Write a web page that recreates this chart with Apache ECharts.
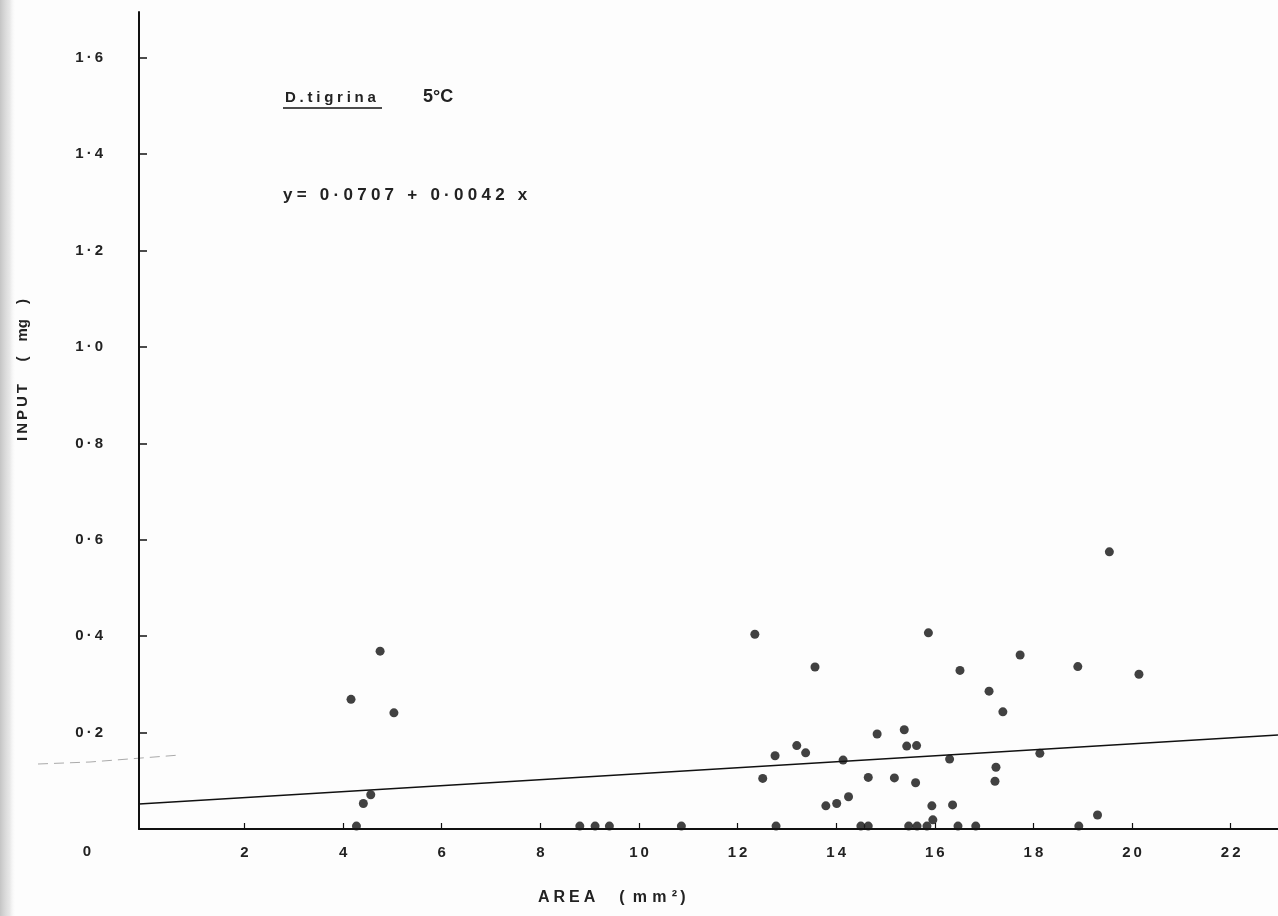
<!DOCTYPE html>
<html><head><meta charset="utf-8">
<script src="https://cdn.jsdelivr.net/npm/echarts@6/dist/echarts.min.js"></script>
<style>html,body{margin:0;padding:0;background:#fdfdfd}#c{width:1278px;height:916px}</style>
</head><body><div id="c"></div>
<script>
// ---- data ----
const areaX = [
  4.16, 4.75, 5.03, 4.56, 4.41, 4.27,
  8.80, 9.11, 9.40, 10.86, 12.78,
  12.35, 13.57, 15.87, 16.51, 17.10, 17.38, 14.83, 15.38, 15.43, 15.63,
  13.20, 13.38, 12.76, 14.14, 16.30, 12.51, 14.65, 15.18, 15.61, 17.24,
  17.22, 14.25, 14.01, 13.79, 15.94, 16.36,
  14.50, 14.65, 15.47, 15.64, 15.84, 15.96, 16.47, 16.83,
  19.54, 17.73, 18.90, 20.14, 18.13, 19.30, 18.92
];
const inputY = [
  0.269, 0.369, 0.241, 0.071, 0.053, 0.006,
  0.006, 0.006, 0.006, 0.006, 0.006,
  0.404, 0.336, 0.407, 0.329, 0.286, 0.243, 0.197, 0.206, 0.172, 0.173,
  0.173, 0.158, 0.152, 0.143, 0.145, 0.105, 0.107, 0.106, 0.096, 0.128,
  0.099, 0.067, 0.053, 0.048, 0.048, 0.050,
  0.006, 0.006, 0.006, 0.006, 0.006, 0.019, 0.006, 0.006,
  0.575, 0.361, 0.337, 0.321, 0.157, 0.029, 0.006
];
const fitX = [-0.14, 22.96];
const fitY = [0.052, 0.195];
const xTicks = [2, 4, 6, 8, 10, 12, 14, 16, 18, 20, 22];
const xTickLabels = ['2', '4', '6', '8', '10', '12', '14', '16', '18', '20', '22'];
const yTicks = [0.2, 0.4, 0.6, 0.8, 1.0, 1.2, 1.4, 1.6];
const yTickLabels = ['0·2', '0·4', '0·6', '0·8', '1·0', '1·2', '1·4', '1·6'];
const titleText = 'D.tigrina';
const tempText = '5°C';
const eqText = 'y= 0·0707 + 0·0042 x';
const xName = 'AREA';
const yName = 'INPUT';

// ---- helpers ----
const sp = (s, c) => s.split('').join(c || '\u2009');
const FONT = '"Liberation Sans", Arial, Helvetica, sans-serif';
const INK = '#111';
const W = 'bold';

const chart = echarts.init(document.getElementById('c'), null, {renderer: 'canvas'});
chart.setOption({
  backgroundColor: '#fdfdfd',
  animation: false,
  grid: {left: 139, right: 0, top: 12, bottom: 87, containLabel: false},
  xAxis: {
    type: 'value', min: fitX[0], max: fitX[1],
    axisLine: {show: true, onZero: false, lineStyle: {color: INK, width: 2}},
    axisTick: {show: true, inside: true, length: 6, customValues: xTicks, lineStyle: {color: INK, width: 1.2}},
    axisLabel: {
      customValues: xTicks, margin: 16, fontSize: 15, fontWeight: W, color: '#222', fontFamily: FONT,
      formatter: v => sp(xTickLabels[xTicks.findIndex(t => Math.abs(t - v) < 1e-6)] || '')
    },
    splitLine: {show: false}
  },
  yAxis: {
    type: 'value', min: 0, max: 1.695,
    axisLine: {show: true, onZero: false, lineStyle: {color: INK, width: 2}},
    axisTick: {show: true, inside: true, length: 8, customValues: yTicks, lineStyle: {color: INK, width: 1.5}},
    axisLabel: {
      customValues: yTicks, margin: 36, fontSize: 15, fontWeight: W, color: '#222', fontFamily: FONT,
      formatter: v => sp(yTickLabels[yTicks.findIndex(t => Math.abs(t - v) < 1e-6)] || '')
    },
    splitLine: {show: false}
  },
  series: [
    {
      type: 'line', data: fitX.map((x, i) => [x, fitY[i]]),
      showSymbol: false, symbol: 'none', lineStyle: {color: INK, width: 1.6}, z: 2, silent: true
    },
    {
      type: 'scatter', data: areaX.map((x, i) => [x, inputY[i]]),
      symbol: 'circle', symbolSize: 9, itemStyle: {color: '#111'}, z: 3, clip: false
    }
  ],
  graphic: [
    {type: 'rect', left: 0, top: 0, shape: {width: 16, height: 916}, z: -1,
      style: {fill: new echarts.graphic.LinearGradient(0, 0, 1, 0, [
        {offset: 0, color: 'rgba(150,150,150,0.55)'}, {offset: 0.6, color: 'rgba(190,190,190,0.35)'}, {offset: 1, color: 'rgba(253,253,253,0)'}])}},
    {type: 'polyline', shape: {points: [[38, 764], [90, 762], [180, 755]]}, z: -1,
      style: {stroke: '#aaa', lineWidth: 1, lineDash: [10, 6]}},
    {type: 'text', x: 87, y: 852, style: {text: '0', font: W + ' 15px ' + FONT, fill: '#222', align: 'center', verticalAlign: 'middle'}},
    {type: 'text', x: 285, y: 98, style: {text: sp(titleText, '\u2005'), font: W + ' 15px ' + FONT, fill: '#222', align: 'left', verticalAlign: 'middle'}},
    {type: 'line', shape: {x1: 283, y1: 108, x2: 382, y2: 108}, style: {stroke: INK, lineWidth: 1.3}},
    {type: 'text', x: 423, y: 97, style: {text: tempText, font: W + ' 18px ' + FONT, fill: '#222', align: 'left', verticalAlign: 'middle'}},
    {type: 'text', x: 283, y: 195, style: {text: sp(eqText, '\u2005'), font: W + ' 17px ' + FONT, fill: '#222', align: 'left', verticalAlign: 'middle'}},
    {type: 'text', x: 538, y: 898, style: {text: sp(xName, '\u2005') + '\u2003\u2002(\u2002' + sp('mm²', '\u2004') + '\u2009)', font: W + ' 16px ' + FONT, fill: '#222', align: 'left', verticalAlign: 'middle'}},
    {type: 'text', x: 23, y: 370, rotation: Math.PI / 2, style: {text: sp(yName) + '\u2003\u2002(\u2003mg\u2003)', font: W + ' 15px ' + FONT, fill: '#222', align: 'center', verticalAlign: 'middle'}}
  ]
});
</script>
</body></html>
